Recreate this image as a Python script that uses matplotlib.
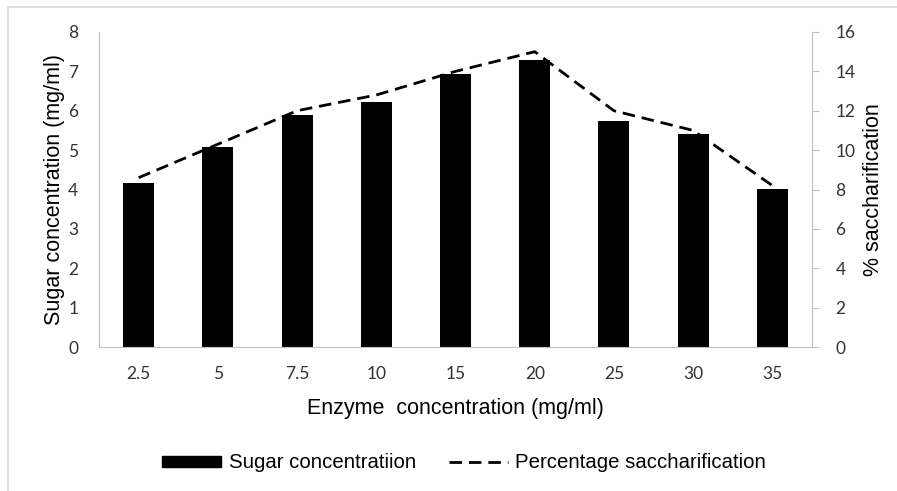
import matplotlib.pyplot as plt
from matplotlib.patches import Rectangle
from matplotlib.lines import Line2D
from matplotlib.patches import Patch

enzyme = ["2.5", "5", "7.5", "10", "15", "20", "25", "30", "35"]
sugar = [4.17, 5.08, 5.90, 6.23, 6.94, 7.30, 5.74, 5.40, 4.01]
saccharification = [8.6, 10.3, 12.0, 12.8, 14.0, 15.0, 12.0, 11.0, 8.2]

grey = "#BFBFBF"
tick_font = "Lato"
label_font = "Liberation Sans"

fig = plt.figure(figsize=(8.97, 4.91), dpi=100)
fig.patches.append(Rectangle((8 / 897, -0.1), 1.2, 1 - 7 / 491 + 0.1, transform=fig.transFigure,
                             fill=False, edgecolor="#D9D9D9", lw=1.2))

ax = fig.add_axes([99 / 897, 1 - 347 / 491, (812 - 99) / 897, (347 - 32) / 491])
x = range(len(enzyme))
ax.bar(x, sugar, width=0.39, color="black", zorder=2)
ax.set_xlim(-0.5, len(enzyme) - 0.5)
ax.set_ylim(0, 8)
ax.set_xticks(list(x))
ax.set_xticklabels(enzyme)

ax2 = ax.twinx()
ax2.plot(x, saccharification, color="black", lw=2, dashes=(4.5, 2.5), zorder=3)
ax2.set_ylim(0, 16)
ax2.set_yticks(range(0, 17, 2))

for a in (ax, ax2):
    for s in a.spines.values():
        s.set_color(grey)
    a.spines["top"].set_visible(False)
ax.spines["right"].set_visible(False)
ax2.spines["left"].set_visible(False)
ax2.spines["bottom"].set_visible(False)

ax.tick_params(axis="y", length=0, labelsize=12.5, pad=15)
ax.tick_params(axis="x", length=0, labelsize=12.5, pad=14)
ax2.tick_params(axis="y", length=5, color=grey, labelsize=12.5, pad=12)
for lab in ax.get_xticklabels() + ax.get_yticklabels() + ax2.get_yticklabels():
    lab.set_fontfamily(tick_font)
    lab.set_color("#333333")

ax.set_xlabel("Enzyme  concentration (mg/ml)", fontsize=15.5, fontfamily=label_font, labelpad=11)
ax.set_ylabel("Sugar concentration (mg/ml)", fontsize=15.5, fontfamily=label_font, labelpad=2)
ax2.set_ylabel("% saccharification", fontsize=15.5, fontfamily=label_font, labelpad=5)

handles = [Patch(facecolor="black", edgecolor="black"),
           Line2D([0], [0], color="black", lw=2, dashes=(4.5, 2.5))]
fig.legend(handles, ["Sugar concentratiion", "Percentage saccharification"],
           loc="center", bbox_to_anchor=(464 / 897, 1 - 463 / 491), ncol=2, frameon=False,
           prop={"family": label_font, "size": 14.7}, handlelength=2.9, handleheight=0.45,
           columnspacing=1.6, handletextpad=0.35)

fig.savefig("out.png", dpi=100)
